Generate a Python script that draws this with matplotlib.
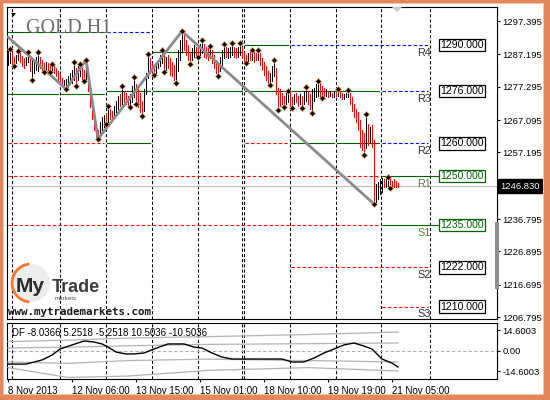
import numpy as np
import matplotlib
matplotlib.use('Agg')
import matplotlib.pyplot as plt
from matplotlib.patches import Rectangle, Circle, Arc, Polygon
from matplotlib import transforms

# ---------------- data ----------------
bar_high = [
    1288.5, 1288.9, 1287.8, 1286.5, 1287.0, 1288.2, 1287.5, 1286.8, 1286.0, 1286.5,
    1287.9, 1286.5, 1285.5, 1285.0, 1286.5, 1287.9, 1286.5, 1285.5, 1284.5, 1284.8,
    1284.5, 1283.8, 1284.2, 1283.8, 1283.0, 1282.0, 1281.0, 1280.0, 1279.5, 1279.8,
    1280.5, 1281.5, 1282.5, 1284.8, 1283.0, 1283.5, 1284.2, 1283.0, 1282.5, 1285.5,
    1283.0, 1278.0, 1273.0, 1269.0, 1266.5, 1264.0, 1266.5, 1268.0, 1268.5, 1269.0,
    1271.4, 1270.5, 1270.0, 1271.5, 1273.0, 1274.5, 1275.0, 1277.5, 1276.0, 1275.5,
    1274.5, 1275.0, 1277.5, 1280.2, 1278.0, 1277.0, 1275.5, 1273.0, 1276.5, 1281.5,
    1287.3, 1286.0, 1284.5, 1283.5, 1284.5, 1285.5, 1287.0, 1288.5, 1287.5, 1286.5,
    1287.0, 1286.0, 1285.0, 1284.0, 1286.0, 1288.5, 1291.5, 1294.3, 1293.0, 1291.5,
    1290.0, 1288.0, 1289.0, 1290.0, 1289.5, 1289.0, 1290.5, 1291.6, 1290.5, 1289.5,
    1289.0, 1289.7, 1288.5, 1287.0, 1285.5, 1284.5, 1286.5, 1288.5, 1290.3, 1289.5,
    1289.0, 1289.5, 1290.6, 1289.5, 1289.0, 1289.5, 1290.6, 1289.5, 1288.0, 1287.0,
    1287.5, 1288.0, 1288.5, 1288.0, 1287.5, 1288.5, 1287.5, 1286.0, 1285.0, 1283.5,
    1282.0, 1281.5, 1283.5, 1285.5, 1283.0, 1277.0, 1276.5, 1275.5, 1274.5, 1275.5,
    1276.0, 1275.5, 1274.0, 1275.0, 1275.5, 1274.5, 1275.0, 1274.5, 1276.0, 1277.2,
    1276.0, 1275.0, 1276.5, 1277.0, 1278.0, 1279.0, 1278.5, 1277.5, 1277.0, 1276.5,
    1276.0, 1276.0, 1275.5, 1276.0, 1275.5, 1276.6, 1276.0, 1275.5, 1275.0, 1275.5,
    1276.3, 1275.5, 1274.0, 1272.0, 1270.5, 1269.5, 1267.0, 1264.0, 1263.0, 1268.9,
    1266.0, 1265.0, 1265.5, 1261.0, 1247.5, 1248.0, 1249.0, 1249.5, 1249.0, 1249.5,
    1249.7, 1249.0, 1248.5, 1249.0, 1248.5, 1247.8]

bar_low = [
    1284.0, 1284.5, 1284.2, 1283.6, 1284.5, 1285.5, 1285.0, 1283.5, 1283.0, 1284.0,
    1284.8, 1282.0, 1279.3, 1281.5, 1282.5, 1282.0, 1283.0, 1282.5, 1281.8, 1282.3,
    1282.0, 1281.8, 1282.0, 1281.5, 1280.5, 1279.5, 1278.5, 1277.5, 1277.0, 1276.6,
    1277.2, 1278.0, 1278.5, 1279.5, 1277.5, 1279.5, 1280.5, 1279.5, 1279.0, 1279.5,
    1276.0, 1271.0, 1267.5, 1264.0, 1262.0, 1261.3, 1262.0, 1264.0, 1265.0, 1265.9,
    1266.5, 1267.5, 1267.0, 1268.0, 1269.0, 1270.5, 1271.5, 1272.0, 1272.5, 1272.0,
    1271.5, 1271.1, 1272.5, 1274.0, 1272.0, 1271.0, 1269.5, 1268.3, 1270.0, 1275.0,
    1280.0, 1281.5, 1281.0, 1280.9, 1281.5, 1283.0, 1283.5, 1284.5, 1281.8, 1282.5,
    1283.0, 1281.0, 1280.5, 1279.5, 1278.4, 1282.0, 1285.5, 1288.0, 1288.5, 1287.0,
    1285.5, 1284.2, 1285.5, 1286.5, 1287.0, 1286.4, 1287.0, 1287.5, 1286.5, 1286.0,
    1285.5, 1286.0, 1284.5, 1283.0, 1281.5, 1280.5, 1282.0, 1284.0, 1286.0, 1286.5,
    1286.0, 1286.5, 1287.0, 1286.5, 1286.0, 1286.5, 1287.0, 1286.0, 1285.0, 1284.5,
    1285.0, 1285.5, 1285.5, 1285.0, 1285.5, 1285.5, 1284.0, 1282.5, 1281.0, 1279.5,
    1278.5, 1277.8, 1279.0, 1280.5, 1275.0, 1270.1, 1271.5, 1272.0, 1271.1, 1272.0,
    1272.5, 1271.5, 1270.7, 1272.0, 1272.5, 1271.5, 1272.0, 1270.7, 1272.0, 1273.0,
    1272.0, 1270.5, 1269.2, 1273.0, 1274.0, 1274.5, 1274.0, 1273.8, 1274.0, 1274.5,
    1274.0, 1274.5, 1274.0, 1274.0, 1274.5, 1274.5, 1274.0, 1273.5, 1273.5, 1274.0,
    1274.0, 1272.0, 1270.0, 1268.0, 1266.5, 1264.0, 1259.0, 1258.0, 1256.4, 1258.5,
    1259.5, 1260.5, 1259.0, 1241.4, 1242.0, 1243.0, 1244.5, 1245.0, 1246.5, 1246.5,
    1246.8, 1246.3, 1246.5, 1246.7, 1246.5, 1246.5]

bar_dir = ("uudduudddu" "uduuuudddu" "dduddddduu" "uuuuduuddu" "dddddduuud"
           "udduuududd" "duuudddduu" "uddduuuudu" "dddduuuudd" "dduudduudd"
           "dudddduuud" "uuudduuddd" "ududdudddd" "duuudddddu" "uddudduduu"
           "dduuuudddu" "dudududduu" "uddddddddu" "dudduuuudu" "uddddd")

frac_up = [1, 5, 10, 15, 22, 33, 36, 39, 50, 57, 63, 70, 77, 87, 97, 101, 108, 112,
           116, 122, 125, 133, 140, 149, 155, 165, 170, 179, 190]
frac_dn = [3, 12, 18, 21, 29, 34, 38, 45, 49, 61, 64, 67, 73, 78, 84, 91, 95, 105,
           119, 131, 135, 138, 142, 147, 152, 157, 178, 183, 191]

zz_idx = [0, 29, 39, 45, 87, 183]
zz_price = [1292.5, 1276.6, 1285.5, 1261.3, 1294.3, 1241.4]

last_price = 1246.830
price_ticks = [1297.395, 1287.195, 1277.295, 1267.095, 1257.195,
               1236.795, 1226.895, 1216.695, 1206.795]

# day boundaries (bar index) ; first entry = chart start
day_bounds = [-0.5, 26, 49, 72, 95, 118, 141, 164, 186.5, 211]
week_seps = [2, 117]
# (price, from day, to day, kind)
level_segs = [
    (1294.0, 0, 2, 'g'), (1294.0, 2, 3, 'b'),
    (1275.0, 0, 1, 'g'), (1275.0, 1, 2, 'g'),
    (1260.0, 0, 2, 'r'), (1260.0, 2, 3, 'g'),
    (1276.0, 2, 3, 'g'), (1276.0, 3, 4, 'g'), (1276.0, 4, 5, 'g'), (1276.0, 5, 8, 'g'),
    (1287.8, 3, 5, 'g'),
    (1290.0, 5, 6, 'g'),
    (1260.0, 5, 6, 'r'), (1260.0, 6, 7, 'g'), (1260.0, 7, 8, 'g'),
    (1250.0, 0, 8, 'r'), (1235.0, 0, 8, 'r'),
    (1222.0, 6, 9, 'r'), (1290.0, 6, 9, 'b'),
    (1276.0, 8, 9, 'b'), (1260.0, 8, 9, 'b'), (1250.0, 8, 9, 'g'),
    (1235.0, 8, 9, 'g'), (1210.0, 8, 9, 'r'),
]
pivot_names = ['R4', 'R3', 'R2', 'R1', 'S1', 'S2', 'S3']
pivot_values = [1290.0, 1276.0, 1260.0, 1250.0, 1235.0, 1222.0, 1210.0]
pivot_green = [False, False, False, True, True, False, False]

time_ticks = [0, 32, 64, 96, 128, 160, 192]
time_labels = ['8 Nov 2013', '12 Nov 06:00', '13 Nov 15:00', '15 Nov 01:00',
               '18 Nov 10:00', '19 Nov 19:00', '21 Nov 05:00']

df_idx = [0, 9, 17, 22, 26, 32, 38, 43, 47, 50, 54, 59, 63, 68, 73, 77, 80, 88, 93,
          97, 102, 107, 112, 118, 137, 142, 148, 153, 158, 163, 168, 173, 178, 182,
          187, 192, 195]
df_val = [-9.5, -9.5, -6.6, -3.1, 1.2, 4.1, 6.9, 6.2, 4.8, 2.6, -0.9, -2.3, -2.3,
          -1.6, 1.2, 3.3, 4.8, 4.8, 2.6, 1.9, -1.6, -4.5, -5.9, -5.9, -5.9, -8.0,
          -8.0, -5.2, -1.6, 1.2, 4.1, 5.5, 3.3, 1.2, -5.9, -8.8, -11.6]
band_idx = [0, 30, 60, 100, 150, 195]
band_up2 = [6.5, 7.5, 9.0, 10.0, 11.5, 13.3]
band_up1 = [2.0, 2.5, 3.5, 4.5, 5.0, 5.5]
band_dn1 = [-8.0, -9.0, -7.0, -6.0, -7.0, -8.0]
band_dn2 = [-12.0, -19.0, -18.0, -14.0, -12.0, -14.4]
ind_ticks = [14.6003, 0.0, -14.6003]
ind_labels = ['14.6003', '0.00', '-14.6003']
df_title = 'DF -8.0366 5.2518 -5.2518 10.5036 -10.5036'

# ---------------- figure ----------------
W, H = 550, 400
FONT = 'Liberation Sans'
fig = plt.figure(figsize=(W / 100, H / 100), dpi=100)
fig.patch.set_facecolor('white')


def rect(l, t, r, b):
    return [l / W, 1 - b / H, (r - l) / W, (b - t) / H]


ax = fig.add_axes(rect(7, 7, 497, 319))
axi = fig.add_axes(rect(7, 323, 497, 379))
XL = (-0.5, 244.5)
GREEN, RED, BLUE = '#006400', '#ff0000', '#0000ff'
dash = (0, (3, 2))

for a in (ax, axi):
    a.set_xlim(*XL)
    a.set_facecolor('white')
    for s in a.spines.values():
        s.set_color('black')
        s.set_linewidth(0.8)
    for g in day_bounds[1:] + week_seps:
        a.axvline(g, color='black', lw=0.75, ls=dash, zorder=1)

ax.set_ylim(1206.2, 1301.7)

# levels
for p, d0, d1, kind in level_segs:
    x0 = day_bounds[d0] + 0.6
    x1 = day_bounds[d1] - 1.0
    if kind == 'g':
        if d1 == 9:
            x1 = 215.5
        ax.plot([x0, x1], [p, p], color=GREEN, lw=0.8, zorder=2)
    else:
        ax.plot([x0, x1], [p, p], color=RED if kind == 'r' else BLUE,
                lw=0.8, ls=dash, zorder=2)

ax.axhline(last_price, color='#c0c0c0', lw=0.9, zorder=2)

# bars
xs = np.arange(len(bar_high))
cols = ['black' if d == 'u' else RED for d in bar_dir]
ax.vlines(xs, bar_low, bar_high, colors=cols, lw=0.72, antialiased=False, zorder=4)

# zigzag
ax.plot(zz_idx, zz_price, color='#8a8a8a', lw=2.0, zorder=5, solid_capstyle='round')

# fractals
ax.plot(frac_up, [bar_high[i] for i in frac_up], ls='none', marker='D', ms=3.0,
        mfc='black', mec='#e09a50', mew=0.5, zorder=6)
ax.plot(frac_dn, [bar_low[i] for i in frac_dn], ls='none', marker='D', ms=3.0,
        mfc='black', mec='#e09a50', mew=0.5, zorder=6)

# pivot labels & boxes
for name, v, g in zip(pivot_names, pivot_values, pivot_green):
    ax.text(208, v - 2.4, name, fontsize=7.8, family=FONT,
            color='#5f7f45' if g else '#333333', ha='center', va='center', zorder=7)
    ax.text(227, v, f'{v:.3f}', fontsize=7.6, family=FONT,
            color=GREEN if g else 'black', ha='center', va='center', zorder=7,
            bbox=dict(boxstyle='square,pad=0.12', fc='white',
                      ec=GREEN if g else 'black', lw=0.9))

# right price axis
ax.yaxis.tick_right()
ax.set_yticks(price_ticks)
ax.set_yticklabels([f'{v:.3f}' for v in price_ticks])
ax.tick_params(axis='y', length=2.5, width=0.8, pad=1.5, labelsize=6.8)
for lab in ax.get_yticklabels():
    lab.set_family(FONT)
ax.set_xticks([])
trans = transforms.blended_transform_factory(ax.transAxes, ax.transData)
ax.text(1.006, last_price, f'{last_price:.3f}', transform=trans, fontsize=6.8,
        family=FONT, color='white', ha='left', va='center', zorder=8, clip_on=False,
        bbox=dict(boxstyle='square,pad=0.25', fc='black', ec='black'))

# indicator
axi.set_ylim(-20.1, 19.7)
axi.axhline(0, color='#b0b0b0', lw=0.8, ls=dash, zorder=2)
for b in (band_up2, band_up1, band_dn1, band_dn2):
    axi.plot(band_idx, b, color='#b4b4b4', lw=0.9, zorder=3)
axi.plot(df_idx, df_val, color='black', lw=1.0, zorder=4)
axi.yaxis.tick_right()
axi.set_yticks(ind_ticks)
axi.set_yticklabels(ind_labels)
axi.tick_params(axis='y', length=2.5, width=0.8, pad=1.5, labelsize=6.8)
axi.set_xticks(time_ticks)
axi.set_xticklabels(time_labels)
axi.tick_params(axis='x', length=2.5, width=0.8, pad=2.5, labelsize=7)
for lab in axi.get_xticklabels():
    lab.set_ha('left')
    lab.set_family(FONT)
for lab in axi.get_yticklabels():
    lab.set_family(FONT)

# ---------------- overlay decorations (pixel coords) ----------------
ov = fig.add_axes([0, 0, 1, 1], zorder=10)
ov.set_xlim(0, W)
ov.set_ylim(H, 0)
ov.axis('off')
ov.patch.set_alpha(0)

ov.text(26, 33, 'GOLD H1', fontsize=14.5, family='Liberation Serif', color='#6c6c6c',
        ha='left', va='baseline')
ov.text(12, 333, df_title, fontsize=7, family=FONT, color='black', ha='left', va='center')

# logo
ov.add_patch(Circle((31, 283), 19, fc='#ececec', ec='none'))
ov.add_patch(Arc((31, 283), 38, 38, theta1=95, theta2=265, color='#f07a30', lw=2.0))
ov.text(16, 292, 'My', fontsize=15, family=FONT, weight='bold', color='#2b2b2b',
        ha='left', va='baseline')
ov.text(52, 292, 'Trade', fontsize=13, family=FONT, weight='bold', color='#3c3c3c',
        ha='left', va='baseline')
ov.text(55, 298, 'markets', fontsize=4.5, family=FONT, color='#555555',
        ha='left', va='center')
ov.text(8, 315, 'www.mytrademarkets.com', fontsize=7.8, family='DejaVu Sans Mono',
        weight='bold', color='#1a1a1a', ha='left', va='baseline')

# chart-shift triangle, small arrow, scrollbar
ov.add_patch(Polygon([(392, 7), (402, 7), (397, 12)], closed=True, fc='#c8c8c8', ec='none'))
ov.add_patch(Polygon([(11, 13), (16, 13), (13.5, 16.5)], closed=True, fc='black', ec='none'))
ov.add_patch(Rectangle((495, 222), 4, 67, fc='#8c8c8c', ec='none'))

# outer border
OR, LO = '#e4875d', '#f4c3a8'
ov.add_patch(Rectangle((0, 0), W, 3, fc=OR, ec='none'))
ov.add_patch(Rectangle((0, 0), 3, H, fc=OR, ec='none'))
ov.add_patch(Rectangle((W - 6, 0), 6, H, fc=OR, ec='none'))
ov.add_patch(Rectangle((0, H - 5), W, 5, fc=OR, ec='none'))
ov.add_patch(Rectangle((3, 3), W - 9, 1.2, fc=LO, ec='none'))
ov.add_patch(Rectangle((3, 3), 1.2, H - 8, fc=LO, ec='none'))
ov.add_patch(Rectangle((W - 7.2, 3), 1.2, H - 8, fc=LO, ec='none'))
ov.add_patch(Rectangle((3, H - 6.2), W - 9, 1.2, fc=LO, ec='none'))

fig.savefig('out.png', dpi=100)
